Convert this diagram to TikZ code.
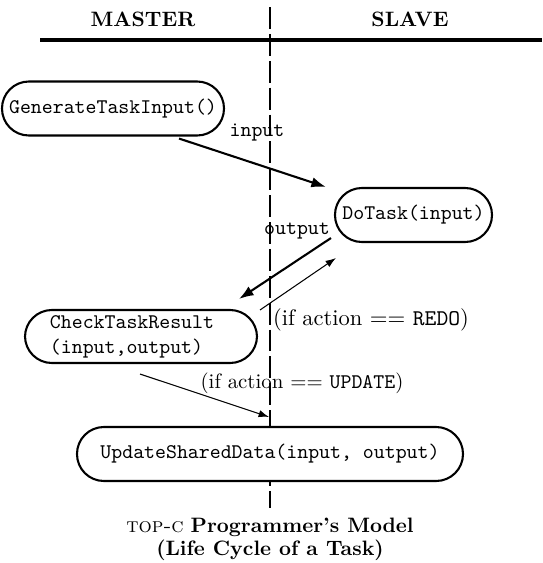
\documentclass[tikz,border=0pt]{standalone}
\usetikzlibrary{arrows.meta}
\begin{document}
\begin{tikzpicture}[x=0.48pt,y=-0.48pt,
  proc/.style={draw,line width=1pt,fill=white,rectangle,rounded corners=12.9pt,
    minimum height=54*0.48pt,inner xsep=0pt,inner ysep=0pt,font=\ttfamily},
  bigarrow/.style={line width=1pt,-{Latex[length=7pt,width=5pt]}},
  smallarrow/.style={line width=0.5pt,-{Latex[length=5pt,width=3.5pt]}},
  lbl/.style={inner sep=0pt}]
\useasboundingbox (0,0) rectangle (542,563);
% header and swimlane divider
\coordinate (hl) at (40,40);
\coordinate (hr) at (542,40);
\coordinate (lt) at (270,7);
\coordinate (lb) at (270,508);
\draw[line width=1.6pt] (hl) -- (hr);
\draw[line width=1.3pt,dash pattern=on 10.5pt off 2.4pt] (lt) -- (lb);
\node[lbl,font=\bfseries] (master) at (143,19) {MASTER};
\node[lbl,font=\bfseries] (slave) at (410,19) {SLAVE};
% processes
\node[proc,minimum width=222*0.48pt] (gen) at (113,108.5) {GenerateTaskInput()};
\node[proc,minimum width=157*0.48pt] (do) at (413.5,215) {DoTask(input)};
\node[proc,minimum width=232*0.48pt,minimum height=53*0.48pt,text width=182*0.48pt,align=left] (check) at (141,336.5)
  {CheckTaskResult\\(input,output)};
\node[proc,minimum width=386*0.48pt] (upd) at (270,454) {UpdateSharedData(input, output)};
% arrows
\draw[bigarrow] ([shift={(-46,2)}]gen.south east) -- ([shift={(-8,0)}]do.north west);
\draw[bigarrow] ([shift={(-3,-5)}]do.south west) -- ([shift={(-19,-10)}]check.north east);
\draw[smallarrow] ([shift={(2,1)}]check.north east) -- ([shift={(2,15)}]do.south west);
\draw[smallarrow] ([shift={(-1,10)}]check.south) -- ([shift={(-1,-9)}]upd.north);
% labels
\node[lbl,font=\ttfamily] (lin) at (257,133) {input};
\node[lbl,font=\ttfamily] (lout) at (297,231) {output};
\node[lbl,font=\fontsize{10.8}{13}\selectfont] (lredo) at (371,320) {(if action $==$ \texttt{REDO})};
\node[lbl] (lupd) at (302,383) {(if action $==$ \texttt{UPDATE})};
% caption
\node[lbl] (cap1) at (270,527) {\textsc{top-c} \textbf{Programmer's Model}};
\node[lbl] (cap2) at (270,550) {\textbf{(Life Cycle of a Task)}};
\end{tikzpicture}
\end{document}
